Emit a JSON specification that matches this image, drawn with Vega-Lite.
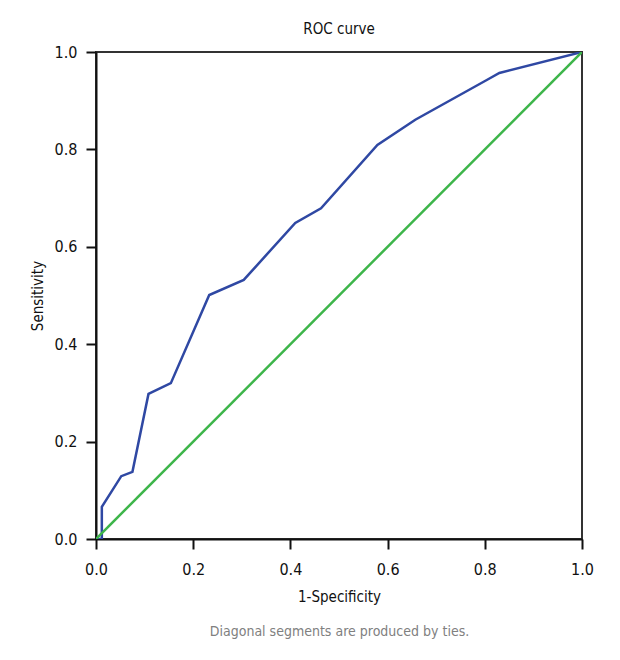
{
  "$schema": "https://vega.github.io/schema/vega-lite/v6.json",
  "autosize": {"type": "none"},
  "padding": {"left": 96, "top": 52, "right": 38, "bottom": 121},
  "width": 486,
  "height": 487,
  "title": {
    "text": "ROC curve",
    "font": "DejaVu Sans Condensed",
    "fontSize": 15,
    "fontWeight": "normal",
    "color": "#111",
    "offset": 7
  },
  "config": {
    "view": {"stroke": "#333", "strokeWidth": 2},
    "font": "DejaVu Sans Condensed"
  },
  "data": {
    "values": [
      {"series": "roc", "fpr": 0.0, "tpr": 0.0},
      {"series": "roc", "fpr": 0.012, "tpr": 0.0},
      {"series": "roc", "fpr": 0.012, "tpr": 0.066},
      {"series": "roc", "fpr": 0.052, "tpr": 0.129},
      {"series": "roc", "fpr": 0.075, "tpr": 0.138},
      {"series": "roc", "fpr": 0.108, "tpr": 0.298},
      {"series": "roc", "fpr": 0.154, "tpr": 0.32},
      {"series": "roc", "fpr": 0.233, "tpr": 0.501},
      {"series": "roc", "fpr": 0.304, "tpr": 0.532},
      {"series": "roc", "fpr": 0.41, "tpr": 0.649},
      {"series": "roc", "fpr": 0.463, "tpr": 0.679},
      {"series": "roc", "fpr": 0.579, "tpr": 0.809},
      {"series": "roc", "fpr": 0.657, "tpr": 0.861},
      {"series": "roc", "fpr": 0.805, "tpr": 0.943},
      {"series": "roc", "fpr": 0.83, "tpr": 0.957},
      {"series": "roc", "fpr": 1.0, "tpr": 1.0},
      {"series": "ref", "fpr": 0.0, "tpr": 0.0},
      {"series": "ref", "fpr": 1.0, "tpr": 1.0}
    ]
  },
  "layer": [
    {
      "mark": {"type": "line", "strokeWidth": 2.5, "clip": true},
      "encoding": {
        "x": {
          "field": "fpr",
          "type": "quantitative",
          "scale": {"domain": [0, 1], "nice": false},
          "axis": {
            "title": "1-Specificity",
            "values": [0, 0.2, 0.4, 0.6, 0.8, 1.0],
            "format": ".1f",
            "grid": false,
            "labelFlush": false,
            "domainColor": "#111",
            "domainWidth": 2,
            "tickColor": "#111",
            "tickWidth": 2,
            "tickSize": 10,
            "labelFont": "DejaVu Sans Condensed",
            "labelFontSize": 16,
            "labelColor": "#111",
            "labelPadding": 12,
            "titleFont": "DejaVu Sans Condensed",
            "titleFontSize": 15,
            "titleFontWeight": "normal",
            "titleColor": "#111",
            "titlePadding": 12
          }
        },
        "y": {
          "field": "tpr",
          "type": "quantitative",
          "scale": {"domain": [0, 1], "nice": false},
          "axis": {
            "title": "Sensitivity",
            "values": [0, 0.2, 0.4, 0.6, 0.8, 1.0],
            "format": ".1f",
            "grid": false,
            "labelFlush": false,
            "domainColor": "#111",
            "domainWidth": 2,
            "tickColor": "#111",
            "tickWidth": 2,
            "tickSize": 10,
            "labelFont": "DejaVu Sans Condensed",
            "labelFontSize": 16,
            "labelColor": "#111",
            "labelPadding": 9,
            "titleFont": "DejaVu Sans Condensed",
            "titleFontSize": 15,
            "titleFontWeight": "normal",
            "titleColor": "#111",
            "titlePadding": 9
          }
        },
        "color": {
          "field": "series",
          "type": "nominal",
          "scale": {"domain": ["roc", "ref"], "range": ["#2f48a3", "#3db54a"]},
          "legend": null
        },
        "order": {"field": "fpr", "type": "quantitative"}
      }
    },
    {
      "mark": {"type": "line", "opacity": 0},
      "encoding": {
        "x": {
          "field": "fpr",
          "type": "quantitative",
          "scale": {"domain": [0, 1], "nice": false},
          "axis": {
            "orient": "bottom",
            "title": "Diagonal segments are produced by ties.",
            "labels": false,
            "ticks": false,
            "domain": false,
            "grid": false,
            "titleFont": "DejaVu Sans Condensed",
            "titleFontSize": 14,
            "titleFontWeight": "normal",
            "titleColor": "#808080",
            "titlePadding": 85
          }
        },
        "y": {"field": "tpr", "type": "quantitative"}
      }
    }
  ],
  "resolve": {"axis": {"x": "independent"}}
}
